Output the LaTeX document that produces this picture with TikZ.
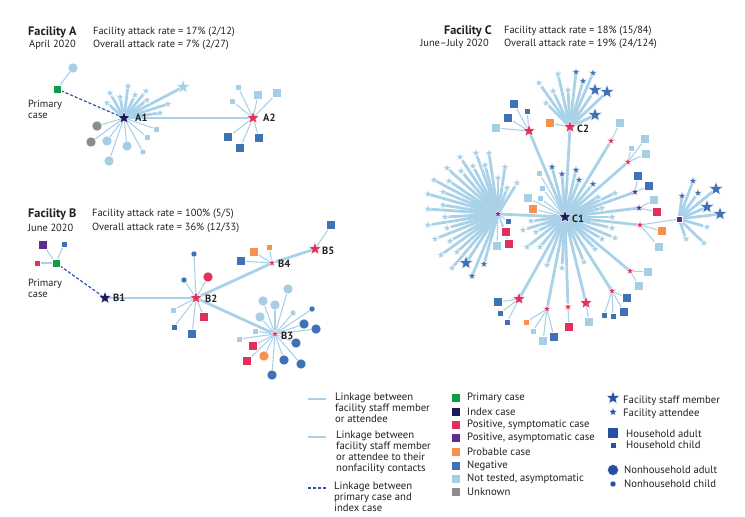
\documentclass[tikz,border=0pt]{standalone}
\usepackage{fontspec}
\setmainfont{PT Sans}
\usetikzlibrary{shapes.geometric}
\pgfdeclarelayer{bg}
\pgfsetlayers{bg,main}
\definecolor{cNT}{HTML}{A6CFE5}
\definecolor{cLink}{HTML}{A9D2E8}
\definecolor{cNEG}{HTML}{3F72B5}
\definecolor{cRED}{HTML}{E0305C}
\definecolor{cPUR}{HTML}{5E2D91}
\definecolor{cORG}{HTML}{F7904E}
\definecolor{cGRN}{HTML}{0F9B48}
\definecolor{cNAV}{HTML}{1C1A5E}
\definecolor{cGRY}{HTML}{8C8C8C}
\definecolor{cDash}{HTML}{2A50B0}
\definecolor{cLeg}{HTML}{2451A3}
\definecolor{cTxt}{HTML}{231F20}
\tikzset{
 nd/.style={inner sep=0pt, outer sep=0pt, draw=white, line width=0.4pt},
 st/.style={nd, star, star points=5, star point ratio=2.4, minimum size=#1},
 sq/.style={nd, rectangle, minimum size=#1},
 ci/.style={nd, circle, minimum size=#1},
 staff/.style={st=14.5pt}, att/.style={st=8.5pt},
 big/.style={st=13.5pt}, small/.style={st=8pt},
 hadult/.style={sq=9pt}, hchild/.style={sq=6pt},
 nadult/.style={ci=10pt}, nchild/.style={ci=6pt},
 thk/.style={draw=cLink, line width=2.8pt},
 thn/.style={draw=cLink, line width=1.1pt},
 dsh/.style={draw=cDash, line width=1.2pt, dash pattern=on 3pt off 2pt},
 txt/.style={font=\fontsize{10.4}{11}\selectfont, inner sep=0pt, text=cTxt},
 lg/.style={font=\fontsize{10.7}{11}\selectfont, inner sep=0pt, text=cTxt},
 hd/.style={font=\bfseries\fontsize{12.3}{13}\selectfont, inner sep=0pt, text=cTxt},
 lab/.style={font=\bfseries\fontsize{10.5}{11}\selectfont, inner sep=0pt, text=cTxt, anchor=west},
}
\newcommand\fan[5]{\foreach \p [count=\i] in {#5}{\node[#3] (#2\i) at (\p) {};\begin{pgfonlayer}{bg}\draw[#4] (#1) -- (#2\i);\end{pgfonlayer}}}
\begin{document}
\begin{tikzpicture}[x=1pt,y=-1pt]
\useasboundingbox (0,0) rectangle (745,517);
% ---------------- Facility A
\node[hd,anchor=west] (hA) at (28,32) {Facility A};
\node[txt,anchor=west] (dA) at (29,45) {April 2020};
\node[txt,anchor=west] (rA1) at (93,32) {Facility attack rate = 17\% (2/12)};
\node[txt,anchor=west] (rA2) at (93,45) {Overall attack rate = 7\% (2/27)};
\node[sq=8pt,fill=cGRN] (PA) at (57,89) {};
\node[txt,anchor=west,align=left] (PAt) at (28,109) {Primary\\case};
\node[big,fill=cNAV] (A1) at (124,118) {};
\node[big,fill=cRED] (A2) at (253,118) {};
\node[lab] (A1l) at (135,118) {A1};
\node[lab] (A2l) at (263,118) {A2};
\fan{PA}{pa}{nadult,fill=cNT}{thn}{{73,68}}
\begin{pgfonlayer}{bg}
\draw[dsh] (PA) -- (A1);
\draw[thk] (A1) -- (A2);
\end{pgfonlayer}
\fan{A1}{aS}{att,fill=cNT}{thk}{{110,93},{107,103},{120,97},{128,86},{135,95},{146,91},{147,100},{168,104},{160,113}}
\fan{A1}{aF}{staff,fill=cNT}{thk}{{183,87}}
\fan{A1}{aG}{nadult,fill=cGRY}{thn}{{97,126},{91,142}}
\fan{A1}{aN}{nadult,fill=cNT}{thn}{{107,141},{127,146},{109,161}}
\fan{A1}{aC}{nchild,fill=cNT}{thn}{{143,152}}
\fan{A1}{aQ}{hchild,fill=cNT}{thn}{{156,129},{147,137}}
\fan{A2}{bQ}{hchild,fill=cNT}{thn}{{238,87},{232,101}}
\fan{A2}{bH}{hadult,fill=cNT}{thn}{{258,95},{277,93}}
\fan{A2}{bN}{hadult,fill=cNEG}{thn}{{228,137},{240,148},{259,138}}
% ---------------- Facility B
\node[hd,anchor=west] (hB) at (28,214) {Facility B};
\node[txt,anchor=west] (dB) at (28,228) {June 2020};
\node[txt,anchor=west] (rB1) at (92,214) {Facility attack rate = 100\% (5/5)};
\node[txt,anchor=west] (rB2) at (92,228) {Overall attack rate = 36\% (12/33)};
\node[sq=8pt,fill=cGRN] (PB) at (56,263) {};
\node[txt,anchor=west,align=left] (PBt) at (28,288) {Primary\\case};
\fan{PB}{pP}{hadult,fill=cPUR}{thn}{{43,245}}
\fan{PB}{pN}{hchild,fill=cNEG}{thn}{{64,244}}
\fan{PB}{pR}{hchild,fill=cRED}{thn}{{37,263}}
\node[big,fill=cNAV] (B1) at (105,298) {};
\node[big,fill=cRED] (B2) at (196,298) {};
\node[small,fill=cRED] (B3) at (275,334) {};
\node[small,fill=cRED] (B4) at (272,263) {};
\node[big,fill=cRED] (B5) at (315,249) {};
\node[lab] (B1l) at (113,298) {B1};
\node[lab] (B2l) at (205,299) {B2};
\node[lab] (B3l) at (281,336) {B3};
\node[lab] (B4l) at (278,264) {B4};
\node[lab] (B5l) at (322,251) {B5};
\begin{pgfonlayer}{bg}
\draw[dsh] (PB) -- (B1);
\draw[thk] (B1) -- (B2);
\draw[thk] (B2) -- (B4);
\draw[thk] (B4) -- (B5);
\draw[thk] (B2) -- (B3);
\end{pgfonlayer}
\fan{B2}{b2a}{nchild,fill=cNEG}{thn}{{194,254},{184,280}}
\fan{B2}{b2b}{nadult,fill=cRED}{thn}{{208,277}}
\fan{B2}{b2c}{hchild,fill=cNT}{thn}{{173,310}}
\fan{B2}{b2d}{hchild,fill=cNEG}{thn}{{174,327}}
\fan{B2}{b2e}{hadult,fill=cNEG}{thn}{{192,334}}
\fan{B2}{b2f}{hadult,fill=cRED}{thn}{{204,317}}
\fan{B3}{b3a}{nadult,fill=cNT}{thn}{{288,289},{263,301},{275,305},{260,317}}
\fan{B3}{b3b}{nchild,fill=cNT}{thn}{{293,313}}
\fan{B3}{b3c}{hchild,fill=cNT}{thn}{{255,331},{239,339}}
\fan{B3}{b3d}{hadult,fill=cRED}{thn}{{253,346},{247,361}}
\fan{B3}{b3e}{nadult,fill=cORG}{thn}{{264,356}}
\fan{B3}{b3f}{nadult,fill=cNEG}{thn}{{272,375},{284,360},{301,364},{296,343},{316,329},{304,324}}
\fan{B3}{b3g}{nchild,fill=cNEG}{thn}{{312,309}}
\fan{B4}{b4a}{hadult,fill=cORG}{thn}{{254,252}}
\fan{B4}{b4b}{hchild,fill=cORG}{thn}{{269,247}}
\fan{B4}{b4c}{hadult,fill=cNEG}{thn}{{241,261}}
\fan{B5}{b5a}{hadult,fill=cNEG}{thn}{{331,225}}
% ---------------- Facility C
\node[hd,anchor=east] (hC) at (492,31) {Facility C};
\node[txt,anchor=east] (dC) at (489,44) {June–July 2020};
\node[txt,anchor=west] (rC1) at (504,31) {Facility attack rate = 18\% (15/84)};
\node[txt,anchor=west] (rC2) at (504,44) {Overall attack rate = 19\% (24/124)};
\node[big,fill=cNAV] (C1) at (565,217) {};
\node[big,fill=cRED] (C2) at (570,127) {};
\node[lab] (C1l) at (572,219) {C1};
\node[lab] (C2l) at (577,129) {C2};
\node[big,fill=cRED] (Cb) at (529,131) {};
\node[small,fill=cRED] (Cr3) at (611,141) {};
\node[small,fill=cRED] (Cr4) at (628,162) {};
\node[small,fill=cPUR] (Cp1) at (635,192) {};
\node[small,fill=cPUR] (Cp2) at (639,208) {};
\node[small,fill=cRED] (Cr5) at (640,225) {};
\node[small,fill=cRED] (Cr6) at (630,271) {};
\node[small,fill=cRED] (Cr7) at (612,291) {};
\node[big,fill=cRED] (Cr8) at (586,303) {};
\node[small,fill=cRED] (Cr9) at (568,307) {};
\node[small,fill=cRED] (Cr10) at (547,309) {};
\node[big,fill=cRED] (Cr11) at (519,299) {};
\node[small,fill=cPUR] (CL) at (498,214) {};
\node[hchild,fill=cPUR] (CH) at (679,219) {};
\begin{pgfonlayer}{bg}
\foreach \n in {C2,Cb,Cr3,Cr4,Cp1,Cp2,Cr5,Cr6,Cr7,Cr8,Cr9,Cr10,Cr11,CL}{\draw[thk] (C1) -- (\n);}
\draw[thn] (Cr5) -- (CH);
\end{pgfonlayer}
\fan{C2}{c2a}{att,fill=cNT}{thk}{{539,83},{558,74},{553,91},{568,90},{546,103}}
\fan{C2}{c2b}{att,fill=cNEG}{thk}{{576,72},{583,81},{593,73}}
\fan{C2}{c2c}{staff,fill=cNEG}{thk}{{595,90},{607,92},{595,115}}
\fan{C2}{c2d}{hadult,fill=cORG}{thn}{{550,123}}
\fan{Cb}{cba}{hadult,fill=cNEG}{thn}{{514,104},{508,118}}
\fan{Cb}{cbb}{hchild,fill=cNEG}{thn}{{527,111}}
\fan{Cb}{cbc}{hadult,fill=cNT}{thn}{{496,128}}
\fan{Cr3}{c3a}{hadult,fill=cNT}{thn}{{620,123}}
\fan{Cr4}{c4a}{hchild,fill=cNT}{thn}{{631,148}}
\fan{Cr4}{c4b}{hadult,fill=cNT}{thn}{{645,139},{646,154}}
\fan{Cp1}{cp1}{hadult,fill=cNEG}{thn}{{638,176},{649,186}}
\fan{Cp2}{cp2a}{hadult,fill=cNT}{thn}{{654,200}}
\fan{Cp2}{cp2b}{hadult,fill=cRED}{thn}{{657,212}}
\fan{Cr5}{c5a}{hadult,fill=cORG}{thn}{{662,231}}
\fan{Cr5}{c5b}{hadult,fill=cNT}{thn}{{659,247}}
\fan{CH}{cha}{att,fill=cNEG}{thk}{{682,196},{693,181},{698,193}}
\fan{CH}{chb}{staff,fill=cNEG}{thk}{{716,189},{707,207},{720,214}}
\fan{CH}{chc}{att,fill=cNT}{thk}{{707,227},{704,243},{686,239}}
\fan{Cr6}{c6}{hadult,fill=cNT}{thn}{{648,272},{639,286}}
\fan{Cr7}{c7a}{hadult,fill=cNEG}{thn}{{627,298},{624,312}}
\fan{Cr7}{c7b}{hchild,fill=cNEG}{thn}{{604,315},{613,316}}
\fan{Cr8}{c8}{hadult,fill=cNT}{thn}{{589,322}}
\fan{Cr9}{c9}{hadult,fill=cRED}{thn}{{569,327}}
\fan{Cr10}{c10a}{hchild,fill=cORG}{thn}{{526,322}}
\fan{Cr10}{c10b}{hchild,fill=cNT}{thn}{{533,331}}
\fan{Cr10}{c10c}{hadult,fill=cNT}{thn}{{543,341}}
\fan{Cr10}{c10d}{hadult,fill=cNEG}{thn}{{554,337}}
\fan{Cr11}{c11a}{hadult,fill=cNEG}{thn}{{498,302}}
\fan{Cr11}{c11b}{hchild,fill=cNEG}{thn}{{500,313},{507,322}}
\fan{CL}{cLa}{att,fill=cNT}{thk}{{460,157},{476,153},{489,153},{447,168},{473,166},{485,165},{505,167},{461,171},{434,180},{449,181},{498,178},{517,183},{507,188},{443,192},{428,194},{428,209},{443,205},{445,217},{428,225},{447,228},{435,239},{450,241},{457,252},{441,255},{452,268}}
\fan{CL}{cLb}{staff,fill=cNEG}{thk}{{466,263}}
\fan{CL}{cLc}{att,fill=cNEG}{thk}{{484,264},{472,276}}
\fan{CL}{cLd}{hchild,fill=cNEG}{thn}{{508,221}}
\fan{CL}{cLe}{hadult,fill=cRED}{thn}{{506,232},{509,244}}
\fan{CL}{cLf}{hadult,fill=cNT}{thn}{{497,246}}
\fan{C1}{c1a}{att,fill=cNEG}{thk}{{552,167},{562,174},{576,170},{579,180},{593,184}}
\fan{C1}{c1b}{att,fill=cNT}{thk}{{615,193},{598,197},{602,208},{612,217},{612,228},{615,238},{602,239},{595,249},{584,262},{562,268},{547,265},{540,247},{527,247},{536,232},{531,221},{523,230}}
\fan{C1}{c1c}{hchild,fill=cNT}{thn}{{539,173},{542,188},{540,198}}
\fan{C1}{c1d}{hadult,fill=cNT}{thn}{{528,198}}
\fan{C1}{c1e}{hadult,fill=cORG}{thn}{{533,209}}
% ---------------- Legend
\coordinate (k1a) at (308,399); \coordinate (k1b) at (326,399);
\coordinate (k2a) at (308,437); \coordinate (k2b) at (326,437);
\coordinate (k3a) at (308,488); \coordinate (k3b) at (326,488);
\draw[thk] (k1a) -- (k1b);
\draw[thn] (k2a) -- (k2b);
\draw[dsh] (k3a) -- (k3b);
\node[lg,anchor=north west,align=left] (t1) at (335,393) {Linkage between\\facility staff member\\or attendee};
\node[lg,anchor=north west,align=left] (t2) at (336,431) {Linkage between\\facility staff member\\or attendee to their\\nonfacility contacts};
\node[lg,anchor=north west,align=left] (t3) at (334,482) {Linkage between\\primary case and\\index case};
\foreach \c/\t/\y [count=\i] in {cGRN/Primary case/398,cNAV/Index case/412,cRED/{Positive, symptomatic case}/425,cPUR/{Positive, asymptomatic case}/438,cORG/Probable case/452,cNEG/Negative/466,cNT/{Not tested, asymptomatic}/479,cGRY/Unknown/492}{
 \node[sq=9pt,fill=\c] (ks\i) at (456,\y) {};
 \node[lg,anchor=west] (kt\i) at (467,\y) {\t};
}
\node[st=14pt,fill=cLeg] (ls1) at (613,398) {};
\node[lg,anchor=west] (lt1) at (623,401) {Facility staff member};
\node[st=9pt,fill=cLeg] (ls2) at (613,412) {};
\node[lg,anchor=west] (lt2) at (623,414) {Facility attendee};
\node[sq=11pt,fill=cLeg] (ls3) at (613,433) {};
\node[lg,anchor=west] (lt3) at (626,434) {Household adult};
\node[sq=6pt,fill=cLeg] (ls4) at (613,445) {};
\node[lg,anchor=west] (lt4) at (626,445) {Household child};
\node[ci=11pt,fill=cLeg] (ls5) at (613,470) {};
\node[lg,anchor=west] (lt5) at (624,470) {Nonhousehold adult};
\node[ci=6pt,fill=cLeg] (ls6) at (613,484) {};
\node[lg,anchor=west] (lt6) at (624,484) {Nonhousehold child};
\end{tikzpicture}
\end{document}
